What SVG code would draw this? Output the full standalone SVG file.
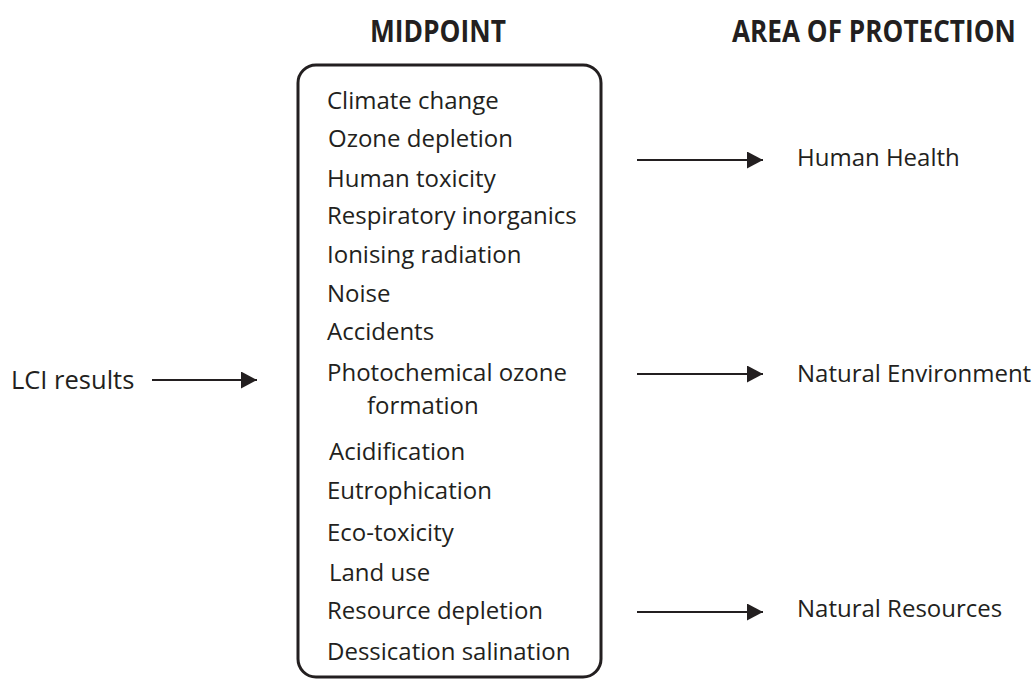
<svg xmlns="http://www.w3.org/2000/svg" width="1034" height="679" viewBox="0 0 1034 679">
  <style>
    .lbl { font-family: "Open Sans", "Liberation Sans", sans-serif; font-size: 24px; fill: #231f20; }
    .hdr { font-family: "Open Sans", "Liberation Sans", sans-serif; font-size: 30px; font-weight: bold; fill: #231f20; }
    .box { fill: none; stroke: #231f20; stroke-width: 3; }
    .arrow { stroke: #231f20; stroke-width: 2; fill: none; marker-end: url(#head); }
  </style>
  <defs>
    <marker id="head" markerUnits="userSpaceOnUse" markerWidth="17" markerHeight="18" refX="16" refY="8.5" orient="auto">
      <path d="M0,0 L16,8.5 L0,17 Z" fill="#231f20"/>
    </marker>
  </defs>
  <rect width="1034" height="679" fill="#ffffff"/>

  <!-- column headings (condensed bold) -->
  <g id="heading-midpoint" transform="translate(370,42) scale(0.86,1)">
    <text class="hdr" x="0" y="0" textLength="158" lengthAdjust="spacingAndGlyphs">MIDPOINT</text>
  </g>
  <g id="heading-protection" transform="translate(732,42) scale(0.86,1)">
    <text class="hdr" x="0" y="0" textLength="330" lengthAdjust="spacingAndGlyphs">AREA OF PROTECTION</text>
  </g>

  <!-- input -->
  <g id="lci-results">
    <text class="lbl" x="11" y="389" style="font-size:25.5px">LCI results</text>
  </g>

  <!-- midpoint categories -->
  <g id="midpoint">
    <rect class="box" x="298" y="65" width="303" height="612" rx="18" ry="18"/>
    <text class="lbl" x="327" y="109">Climate change</text>
    <text class="lbl" x="328" y="147">Ozone depletion</text>
    <text class="lbl" x="327" y="187">Human toxicity</text>
    <text class="lbl" x="327" y="224">Respiratory inorganics</text>
    <text class="lbl" x="327" y="263">Ionising radiation</text>
    <text class="lbl" x="327" y="302">Noise</text>
    <text class="lbl" x="327" y="340">Accidents</text>
    <text class="lbl" x="327" y="381">Photochemical ozone</text>
    <text class="lbl" x="367" y="414">formation</text>
    <text class="lbl" x="329" y="460">Acidification</text>
    <text class="lbl" x="327" y="499">Eutrophication</text>
    <text class="lbl" x="327" y="541">Eco-toxicity</text>
    <text class="lbl" x="329" y="581">Land use</text>
    <text class="lbl" x="327" y="619">Resource depletion</text>
    <text class="lbl" x="327" y="660">Dessication salination</text>
  </g>

  <!-- areas of protection -->
  <g id="human-health">
    <text class="lbl" x="797" y="166">Human Health</text>
  </g>
  <g id="natural-environment">
    <text class="lbl" x="797" y="382">Natural Environment</text>
  </g>
  <g id="natural-resources">
    <text class="lbl" x="797" y="617">Natural Resources</text>
  </g>

  <!-- connectors -->
  <g id="connectors">
    <line class="arrow" x1="152" y1="380" x2="257" y2="380"/>
    <line class="arrow" x1="637" y1="160" x2="763" y2="160"/>
    <line class="arrow" x1="637" y1="374" x2="763" y2="374"/>
    <line class="arrow" x1="637" y1="612" x2="763" y2="612"/>
  </g>
</svg>
